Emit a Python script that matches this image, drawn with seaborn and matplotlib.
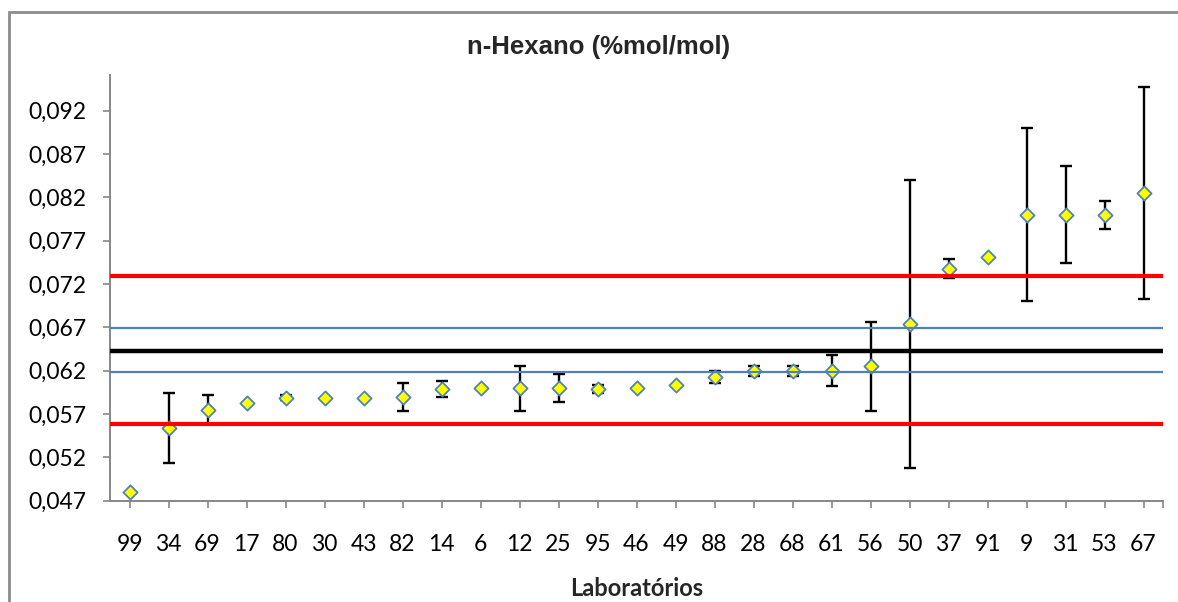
import matplotlib
matplotlib.use("Agg")
import matplotlib.pyplot as plt
from matplotlib.patches import Rectangle
from matplotlib.ticker import FuncFormatter
import numpy as np
import pandas as pd
import seaborn as sns

# Participating laboratories, ordered by reported result
laboratorios = ["99", "34", "69", "17", "80", "30", "43", "82", "14", "6",
                "12", "25", "95", "46", "49", "88", "28", "68", "61", "56",
                "50", "37", "91", "9", "31", "53", "67"]

# Reported n-hexane content (%mol/mol)
resultados = [0.0480, 0.0554, 0.0575, 0.0583, 0.0589, 0.0589, 0.0589, 0.0590,
              0.0599, 0.0600, 0.0600, 0.0600, 0.0599, 0.0600, 0.0603, 0.0613,
              0.0620, 0.0620, 0.0620, 0.0625, 0.0674, 0.0738, 0.0751, 0.0800,
              0.0800, 0.0800, 0.0825]

# Expanded uncertainty declared by each laboratory
incertezas = [0.0, 0.0040, 0.0017, 0.0, 0.0003, 0.0, 0.0, 0.0016,
              0.0009, 0.0, 0.0026, 0.0016, 0.0005, 0.0, 0.0, 0.0007,
              0.0006, 0.0006, 0.0018, 0.0051, 0.0166, 0.0011, 0.0, 0.0100,
              0.0056, 0.0016, 0.0122]

# Reference value and acceptance limits
valor_designado = 0.0643
limites_incerteza = [0.0618, 0.0669]
limites_aceitacao = [0.0558, 0.0729]

y_ticks = [0.047, 0.052, 0.057, 0.062, 0.067, 0.072, 0.077, 0.082, 0.087, 0.092]

sns.set_theme(style="white")
plt.rcParams["font.family"] = ["Lato", "DejaVu Sans"]

df = pd.DataFrame({"Laboratório": laboratorios,
                   "Resultado": resultados,
                   "Incerteza": incertezas})

W, H = 1178, 602
fig = plt.figure(figsize=(W / 100, H / 100), dpi=100)
fig.patch.set_facecolor("white")

# Chart area frame
fig.patches.append(Rectangle((8.5 / W, -0.2), 1.2, 1.2 - 11.5 / H,
                             transform=fig.transFigure, fill=False,
                             edgecolor="#8c8c8c", linewidth=2.0))

left, right, bottom, top = 110, 1163, 500.7, 75.3
ax = fig.add_axes([left / W, 1 - bottom / H, (right - left) / W, (bottom - top) / H])
ax.set_facecolor("white")

pos = np.arange(len(df))
com_inc = df["Incerteza"] > 0
ax.errorbar(pos[com_inc], df.loc[com_inc, "Resultado"], yerr=df.loc[com_inc, "Incerteza"],
            fmt="none", ecolor="black", elinewidth=1.7, capsize=4.3, capthick=1.7,
            zorder=2)

sns.scatterplot(data=df, x="Laboratório", y="Resultado", marker="D", s=52,
                color="#FFFF00", edgecolor="#4F81BD", linewidth=1.3,
                zorder=3, ax=ax, legend=False)

for y in limites_aceitacao:
    ax.axhline(y, color="#FF0000", linewidth=3.0, zorder=4)
for y in limites_incerteza:
    ax.axhline(y, color="#4F81BD", linewidth=1.6, zorder=4)
ax.axhline(valor_designado, color="black", linewidth=3.2, zorder=4)

ax.set_xlim(-0.5, len(df) - 0.5)
ax.set_ylim(0.047, 0.0961)
ax.set_xticks(pos)
ax.set_xticklabels(laboratorios)
ax.set_xticks([len(df) - 0.5], minor=True)
ax.set_yticks(y_ticks)
ax.yaxis.set_major_formatter(FuncFormatter(lambda v, _: f"{v:.3f}".replace(".", ",")))

for side in ("top", "right"):
    ax.spines[side].set_visible(False)
for side in ("left", "bottom"):
    ax.spines[side].set_color("#868686")
    ax.spines[side].set_linewidth(1.4)

ax.tick_params(axis="both", which="both", direction="out", color="#868686",
               width=1.2, length=5, labelcolor="black", labelsize=16.5,
               left=True, bottom=True)
ax.tick_params(axis="x", which="both", pad=19)
ax.tick_params(axis="y", pad=12)
ax.grid(False)

ax.set_xlabel("Laboratórios", fontsize=17, fontweight="bold", labelpad=16)
ax.set_ylabel("")

fig.text(599 / W, 1 - 47 / H, "n-Hexano (%mol/mol)",
         family=["Liberation Sans", "DejaVu Sans"], fontweight="bold",
         fontsize=18.5, ha="center", va="center")

fig.savefig("out.png", dpi=100)
